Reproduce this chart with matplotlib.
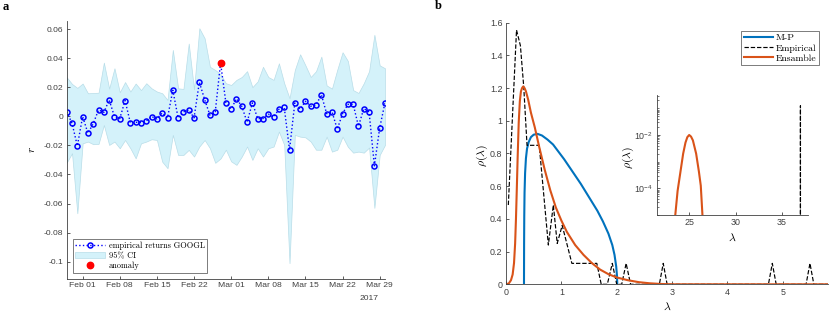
import numpy as np
import pandas as pd
import matplotlib
matplotlib.use('Agg')
import matplotlib.pyplot as plt
from matplotlib.ticker import FixedLocator, FuncFormatter, LogLocator, NullFormatter, FixedFormatter

plt.rcParams['font.family'] = 'Liberation Sans'
plt.rcParams['mathtext.fontset'] = 'cm'
plt.rcParams['axes.unicode_minus'] = False

# ---- panel a data ----
days = pd.date_range('2017-01-29', '2017-03-30', freq='D')
returns = [0.003, -0.0048, -0.0204, -0.0002, -0.0117, -0.005, 0.0044, 0.0027, 0.0112, -0.0002,
           -0.0016, 0.0108, -0.0046, -0.0041, -0.0044, -0.0032, -0.0002, -0.0018, 0.0023, -0.0011,
           0.0179, -0.0011, 0.003, 0.0044, -0.0011, 0.0234, 0.0115, 0.0007, 0.003, 0.0367,
           0.0094, 0.005, 0.0121, 0.0069, -0.0041, 0.0092, -0.0016, -0.0016, 0.0014, -0.0005,
           0.0048, 0.0062, -0.0231, 0.0092, 0.0048, 0.0103, 0.0069, 0.0076, 0.0149, 0.0018,
           0.0032, -0.0089, 0.0018, 0.0082, 0.0082, -0.0069, 0.0053, 0.003, -0.0341, -0.008, 0.0094]
ci_upper = [0.0268, 0.0222, 0.0195, 0.0225, 0.0158, 0.016, 0.0162, 0.0369, 0.019, 0.033,
            0.0165, 0.0235, 0.017, 0.0225, 0.018, 0.0227, 0.0192, 0.017, 0.0158, 0.0112,
            0.0456, 0.0192, 0.0188, 0.050, 0.0185, 0.0605, 0.0536, 0.034, 0.0318, 0.029,
            0.0227, 0.0215, 0.025, 0.027, 0.031, 0.020, 0.024, 0.034, 0.027, 0.025,
            0.0364, 0.0227, 0.0124, 0.0318, 0.0426, 0.035, 0.027, 0.031, 0.041, 0.0212,
            0.019, 0.032, 0.044, 0.038, 0.018, 0.016, 0.0227, 0.031, 0.056, 0.035, 0.033]
ci_lower = [-0.0318, -0.0254, -0.0667, -0.0186, -0.0174, -0.0192, -0.019, -0.006, -0.0197, -0.0174,
            -0.022, -0.0163, -0.022, -0.0289, -0.0186, -0.0174, -0.0158, -0.0163, -0.0312, -0.0357,
            -0.0128, -0.0266, -0.0266, -0.0231, -0.0277, -0.0208, -0.0163, -0.022, -0.032, -0.029,
            -0.023, -0.031, -0.0334, -0.0277, -0.0208, -0.030, -0.022, -0.0277, -0.022, -0.0208,
            -0.0105, -0.0197, -0.101, -0.0128, -0.014, -0.0145, -0.0174, -0.023, -0.023, -0.014,
            -0.0243, -0.023, -0.014, -0.021, -0.025, -0.0243, -0.025, -0.0215, -0.063, -0.0266, -0.0197]
anomaly_day = [pd.Timestamp('2017-02-27')]
anomaly_r = [0.0367]
tick_days = pd.to_datetime(['2017-02-01', '2017-02-08', '2017-02-15', '2017-02-22', '2017-03-01',
                            '2017-03-08', '2017-03-15', '2017-03-22', '2017-03-29'])
r_ticks = [-0.1, -0.08, -0.06, -0.04, -0.02, 0, 0.02, 0.04, 0.06]

# ---- panel b data ----
mp_lam = [0.325, 0.327, 0.33, 0.335, 0.345, 0.36, 0.38, 0.41, 0.45, 0.50, 0.57, 0.65, 0.75, 0.85,
          0.95, 1.05, 1.15, 1.25, 1.35, 1.45, 1.55, 1.65, 1.75, 1.85, 1.92, 1.96, 1.99, 2.005, 2.01]
mp_rho = [0, 0.25, 0.42, 0.56, 0.68, 0.77, 0.83, 0.87, 0.90, 0.915, 0.92, 0.91, 0.885, 0.855,
          0.81, 0.765, 0.715, 0.665, 0.615, 0.56, 0.505, 0.45, 0.385, 0.31, 0.24, 0.18, 0.11, 0.05, 0]
emp_lam = [0.042, 0.19, 0.26, 0.32, 0.38, 0.60, 0.765, 0.855, 0.925, 1.015, 1.19, 1.64, 1.72, 1.83,
           1.92, 2.0, 2.09, 2.17, 2.25, 2.77, 2.84, 2.91, 4.74, 4.81, 4.88, 5.42, 5.49, 5.56,
           36.93, 37.0, 37.07]
emp_rho = [0.485, 1.555, 1.46, 1.21, 0.85, 0.85, 0.24, 0.485, 0.25, 0.36, 0.128, 0.128, 0, 0,
           0.128, 0, 0, 0.128, 0, 0, 0.128, 0, 0, 0.128, 0, 0, 0.128, 0,
           0, 0.125, 0]
ens_lam = [0, 0.05, 0.09, 0.12, 0.145, 0.165, 0.18, 0.195, 0.21, 0.23, 0.25, 0.27, 0.29, 0.31, 0.335,
           0.36, 0.40, 0.45, 0.52, 0.60, 0.70, 0.80, 0.90, 1.00, 1.10, 1.25, 1.40, 1.55, 1.70, 1.85,
           2.0, 2.2, 2.4, 2.6, 2.8, 3.0, 5.8]
ens_rho = [0, 0.005, 0.025, 0.06, 0.13, 0.25, 0.40, 0.58, 0.77, 0.99, 1.12, 1.18, 1.20, 1.21, 1.20,
           1.18, 1.13, 1.05, 0.96, 0.84, 0.70, 0.575, 0.47, 0.39, 0.32, 0.24, 0.18, 0.13, 0.09, 0.062,
           0.042, 0.025, 0.013, 0.006, 0.002, 0, 0]
ens_out_lam = [23.4, 23.5, 23.75, 24.05, 24.35, 24.6, 24.8, 25.0, 25.2, 25.4, 25.75, 26.05, 26.25, 26.43, 26.5]
ens_out_rho = [4e-6, 1e-5, 8e-5, 4e-4, 2e-3, 5.2e-3, 8.3e-3, 1.0e-2, 8.7e-3, 6.3e-3, 2e-3, 4.2e-4,
               1.26e-4, 1e-5, 4e-6]

axcol = '#404040'
mp_col = '#0072BD'
ens_col = '#D95319'

fig = plt.figure(figsize=(8.31, 3.13), dpi=100)


def style(ax, size):
    for s in ['top', 'right']:
        ax.spines[s].set_visible(False)
    for s in ['left', 'bottom']:
        ax.spines[s].set_color(axcol)
        ax.spines[s].set_linewidth(0.6)
    ax.tick_params(direction='in', length=2.5, width=0.6, colors=axcol, labelsize=size, pad=2.5)
    ax.tick_params(which='minor', direction='in', length=1.5, width=0.5, colors=axcol)


# ---- a ----
ax = fig.add_axes([0.0803, 0.1086, 0.3830, 0.8252])
band = ax.fill_between(days, ci_lower, ci_upper, facecolor='#d4f2fa', edgecolor='#b8dde8', linewidth=0.5)
line, = ax.plot(days, returns, ':', color='#0000ff', lw=1.0, marker='o', ms=3.6, mfc='none',
                mec='#0000ff', mew=1.1)
dot, = ax.plot(anomaly_day, anomaly_r, 'o', color='#ff0000', ms=4.6, ls='none')
ax.set_xlim(days[0], days[-1])
ax.set_ylim(-0.1119, 0.0657)
ax.yaxis.set_major_locator(FixedLocator(r_ticks))
ax.yaxis.set_major_formatter(FuncFormatter(lambda v, p: '{:g}'.format(round(v, 4))))
ax.set_xticks(tick_days)
ax.set_xticklabels([d.strftime('%b %d') for d in tick_days])
style(ax, 6.1)
ax.set_ylabel(r'$r$', fontsize=8)
ax.yaxis.set_label_coords(-0.093, 0.5)
leg = ax.legend([line, band, dot], ['empirical returns GOOGL', '95% CI', 'anomaly'],
                loc='lower left', bbox_to_anchor=(0.019, 0.024), borderaxespad=0,
                prop={'family': 'cmr10', 'size': 6}, fancybox=False, edgecolor=axcol,
                handlelength=3.6, handletextpad=0.4, labelspacing=0.2, borderpad=0.3)
leg.get_frame().set_linewidth(0.6)
fig.text(379 / 831, 1 - 299 / 313, '2017', ha='right', va='center', fontsize=6.1, color=axcol)

# ---- b ----
bx = fig.add_axes([0.6089, 0.0917, 0.3871, 0.8358])
l1, = bx.plot(mp_lam, mp_rho, color=mp_col, lw=1.5)
l2, = bx.plot(emp_lam, emp_rho, '--', color='black', lw=0.85)
l3, = bx.plot(ens_lam, ens_rho, color=ens_col, lw=1.5)
bx.plot(ens_out_lam, ens_out_rho, color=ens_col, lw=1.5)
bx.set_xlim(0, 5.81)
bx.set_ylim(0, 1.6)
bx.set_yticks([0, 0.2, 0.4, 0.6, 0.8, 1.0, 1.2, 1.4, 1.6])
bx.yaxis.set_major_formatter(FuncFormatter(lambda v, p: '{:g}'.format(round(v, 3))))
bx.set_xticks([0, 1, 2, 3, 4, 5])
style(bx, 6.4)
bx.set_ylabel(r'$\rho(\lambda)$', fontsize=8.5)
bx.yaxis.set_label_coords(-0.05, 0.494)
bx.set_xlabel(r'$\lambda$', fontsize=8.5)
bx.xaxis.set_label_coords(0.5, -0.062)
leg2 = bx.legend([l1, l2, l3], ['M-P', 'Empirical', 'Ensamble'], loc='upper right',
                 bbox_to_anchor=(0.973, 0.968), borderaxespad=0,
                 prop={'family': 'cmr10', 'size': 7}, fancybox=False, edgecolor=axcol,
                 handlelength=3.0, handletextpad=0.3, labelspacing=0.15, borderpad=0.25)
leg2.get_frame().set_linewidth(0.6)

# ---- inset ----
ix = fig.add_axes([0.7903, 0.3131, 0.1824, 0.3834])
ix.set_yscale('log')
ix.plot(mp_lam, mp_rho, color=mp_col, lw=1.5)
ix.plot(emp_lam, emp_rho, '--', color='black', lw=0.85)
ix.plot(ens_lam, ens_rho, color=ens_col, lw=1.5)
ix.plot(ens_out_lam, ens_out_rho, color=ens_col, lw=1.5)
ix.set_xlim(21.5, 37.85)
ix.set_ylim(1e-5, 10 ** -0.5)
ix.set_xticks([25, 30, 35])
ix.yaxis.set_major_locator(FixedLocator([1e-4, 1e-2]))
ix.yaxis.set_major_formatter(FixedFormatter([r'$\mathregular{10^{-4}}$', r'$\mathregular{10^{-2}}$']))
ix.yaxis.set_minor_locator(LogLocator(base=10, subs=np.arange(1, 10), numticks=20))
ix.yaxis.set_minor_formatter(NullFormatter())
style(ix, 6.4)
ix.set_ylabel(r'$\rho(\lambda)$', fontsize=8.5)
ix.yaxis.set_label_coords(-0.14, 0.483)
ix.set_xlabel(r'$\lambda$', fontsize=8.5)
ix.xaxis.set_label_coords(0.5, -0.14)

fig.text(6 / 831, 1 - 7 / 313, 'a', fontsize=9, fontweight='bold', family='Liberation Serif',
         ha='center', va='center')
fig.text(438 / 831, 1 - 6 / 313, 'b', fontsize=9, fontweight='bold', family='Liberation Serif',
         ha='center', va='center')

fig.savefig('out.png', dpi=100)
